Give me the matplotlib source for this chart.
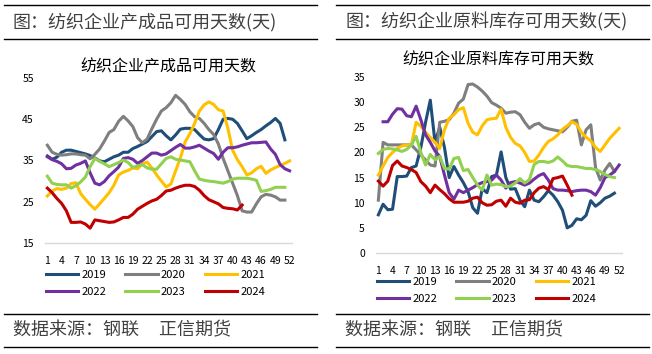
import numpy as np
import matplotlib.pyplot as plt
from matplotlib.lines import Line2D

plt.rcParams['font.family'] = ['Noto Sans CJK SC', 'DejaVu Sans']

weeks = np.arange(1, 53)
years = ['2019', '2020', '2021', '2022', '2023', '2024']
colors = ['#1F4E79', '#7F7F7F', '#FFC000', '#7030A0', '#92D050', '#C00000']

# 纺织企业产成品可用天数 (week 1..)
fg_2019 = [36.1, 35.3, 35.8, 37.0, 37.5, 37.5, 37.2, 36.9, 36.6, 36.2, 35.6, 34.9, 34.7, 35.3, 35.9, 36.3,
           37.0, 37.0, 37.9, 38.4, 39.0, 39.6, 40.8, 42.0, 42.2, 41.0, 40.0, 41.2, 42.6, 42.8, 42.8, 42.5,
           41.3, 40.2, 40.0, 40.3, 42.5, 45.0, 45.2, 45.0, 44.0, 42.2, 40.3, 41.0, 41.8, 42.5, 43.4, 44.2,
           45.2, 44.0, 40.0]
fg_2020 = [38.7, 37.0, 36.5, 36.3, 36.4, 36.6, 36.6, 36.4, 36.3, 35.4, 36.5, 37.8, 39.7, 41.8, 42.5, 44.5,
           45.7, 44.6, 43.2, 40.5, 39.3, 40.2, 42.7, 45.0, 47.0, 47.8, 49.0, 50.8, 49.8, 48.6, 46.8, 45.6,
           45.2, 44.0, 42.5, 41.3, 39.0, 35.5, 32.5, 29.5, 26.5, 22.8, 22.5, 22.5, 24.5, 26.2, 26.8, 26.6,
           26.2, 25.4, 25.4]
fg_2021 = [26.4, 27.6, 28.2, 28.0, 28.3, 29.4, 29.6, 27.0, 25.6, 24.3, 23.2, 24.5, 25.8, 27.2, 29.0, 31.5,
           32.2, 32.6, 33.2, 33.0, 34.2, 34.6, 33.2, 31.5, 30.0, 28.6, 29.3, 32.5, 35.6, 39.5, 41.5, 44.0,
           47.0, 48.5, 49.2, 48.6, 47.3, 47.0, 42.8, 37.5, 35.2, 33.5, 31.5, 32.0, 33.0, 33.6, 31.9, 32.7,
           33.3, 33.8, 34.3, 34.9]
fg_2022 = [35.9, 35.2, 34.8, 34.2, 33.0, 33.1, 33.9, 34.3, 34.9, 32.0, 29.5, 29.1, 29.9, 31.3, 32.3, 33.4,
           35.5, 35.7, 35.3, 34.3, 35.0, 35.9, 36.8, 36.8, 36.3, 36.6, 37.4, 38.2, 38.9, 38.0, 38.0, 38.3,
           38.7, 38.0, 37.3, 36.7, 35.3, 37.0, 38.1, 38.1, 38.3, 38.7, 39.0, 39.3, 39.3, 39.4, 39.5, 37.8,
           36.5, 34.0, 33.0, 32.5]
fg_2023 = [31.2, 29.5, 29.2, 29.1, 29.1, 28.3, 28.9, 29.8, 31.0, 33.5, 35.5, 34.8, 34.2, 33.5, 34.0, 34.5,
           35.1, 34.5, 33.3, 33.7, 34.0, 33.2, 32.9, 32.9, 34.2, 35.5, 35.9, 35.3, 35.1, 34.9, 34.7, 32.5,
           30.5, 30.2, 30.0, 29.9, 29.7, 29.5, 29.9, 30.5, 30.7, 30.7, 30.7, 30.5, 30.2, 27.5, 27.7, 28.0,
           28.5, 28.5, 28.5]
fg_2024 = [28.3, 27.2, 25.8, 24.6, 22.8, 20.0, 20.0, 20.1, 19.6, 18.6, 20.6, 20.4, 20.2, 20.0, 20.1, 20.6,
           21.2, 21.2, 22.0, 23.2, 23.9, 24.6, 25.2, 25.6, 26.5, 27.6, 27.8, 28.3, 28.7, 29.0, 29.0, 28.7,
           27.8, 26.5, 25.5, 25.0, 24.5, 23.6, 23.4, 23.3, 23.0, 24.2]

# 纺织企业原料库存可用天数 (week 1..)
rm_2019 = [7.6, 9.7, 8.6, 8.7, 15.2, 15.2, 15.3, 17.0, 17.3, 21.0, 26.0, 30.4, 22.0, 25.0, 21.0, 15.0,
           17.2, 15.5, 14.0, 12.2, 9.0, 7.9, 12.8, 12.0, 15.2, 15.5, 20.1, 15.0, 12.7, 12.8, 10.5, 9.2,
           12.5, 10.5, 10.2, 11.2, 12.4, 11.5, 10.2, 8.5, 5.0, 5.5, 6.8, 6.6, 7.5, 10.4, 9.3, 10.0,
           10.9, 11.3, 11.9]
rm_2020 = [10.5, 22.0, 21.5, 21.5, 21.5, 21.5, 21.5, 21.5, 20.5, 19.5, 18.5, 17.5, 17.3, 26.0, 26.2, 26.5,
           27.8, 29.8, 30.6, 33.5, 33.6, 33.0, 32.2, 31.2, 29.9, 29.4, 28.8, 27.8, 28.0, 28.1, 27.5, 26.0,
           24.8, 25.5, 25.8, 25.0, 24.7, 24.5, 24.3, 24.1, 25.0, 26.2, 26.4, 21.5, 24.5, 25.5, 17.0, 14.5,
           16.5, 17.8, 16.2]
rm_2021 = [15.5, 17.3, 19.0, 20.0, 20.8, 21.3, 21.5, 21.5, 26.0, 25.2, 24.0, 23.0, 22.0, 20.8, 24.5, 26.8,
           27.5, 28.5, 28.9, 25.8, 24.0, 23.5, 25.3, 26.5, 26.7, 26.8, 28.6, 25.0, 23.0, 21.8, 21.3, 20.0,
           18.2, 18.3, 19.5, 21.0, 22.2, 22.7, 23.5, 24.6, 25.3, 26.1, 25.6, 24.0, 23.0, 22.3, 21.0, 20.2,
           21.5, 22.8, 23.8, 24.8]
rm_2022 = [np.nan, 26.1, 26.1, 27.6, 28.7, 28.6, 27.3, 27.1, 29.2, 26.5, 23.5, 22.0, 20.3, 19.2, 15.5, 12.0,
           10.7, 12.5, 12.0, 12.5, 13.0, 13.6, 14.0, 14.2, 14.5, 15.5, 14.5, 12.9, 14.0, 14.2, 13.9, 13.5,
           13.9, 14.7, 15.4, 15.8, 14.5, 12.8, 12.5, 12.5, 12.4, 12.2, 12.4, 12.5, 12.5, 12.2, 11.5, 13.0,
           15.0, 15.5, 16.2, 17.5]
rm_2023 = [19.8, 20.6, 20.8, 20.7, 20.5, 20.2, 20.6, 21.5, 23.2, 20.0, 17.5, 19.6, 18.5, 19.2, 16.8, 16.7,
           18.8, 19.0, 16.4, 16.6, 15.0, 13.5, 12.5, 15.5, 13.5, 13.7, 13.6, 13.2, 13.3, 13.9, 14.8, 13.9,
           14.6, 17.6, 18.2, 18.2, 18.0, 18.3, 19.1, 18.3, 17.4, 17.2, 17.2, 17.0, 16.8, 16.8, 16.6, 16.2,
           15.6, 15.2, 15.0]
rm_2024 = [14.3, 13.3, 14.3, 17.4, 18.3, 17.3, 17.0, 16.6, 16.0, 14.2, 13.3, 12.0, 13.5, 12.6, 11.8, 10.8,
           10.1, 10.1, 10.1, 10.3, 10.9, 11.1, 10.0, 9.5, 9.6, 10.3, 10.5, 9.3, 10.9, 10.1, 9.9, 10.5,
           10.6, 12.0, 12.9, 13.2, 12.6, 14.8, 15.0, 15.3, 13.5, 11.5]

fg_series = [fg_2019, fg_2020, fg_2021, fg_2022, fg_2023, fg_2024]
rm_series = [rm_2019, rm_2020, rm_2021, rm_2022, rm_2023, rm_2024]

xtick_pos = np.arange(1, 53, 3)
text_gray = '#404040'


def pad(vals):
    out = np.full(52, np.nan)
    out[:len(vals)] = vals
    return out


def draw(ax, series, title, ylim, ystep, title_y):
    lines = []
    for s, c, y in zip(series, colors, years):
        ln, = ax.plot(weeks, pad(s), color=c, lw=2.2, label=y, solid_joinstyle='round')
        lines.append(ln)
    ax.set_xlim(0.5, 52.5)
    ax.set_ylim(*ylim)
    ax.set_yticks(np.arange(ylim[0], ylim[1] + 0.1, ystep))
    ax.set_xticks(xtick_pos)
    ax.set_xticklabels([str(v) for v in xtick_pos])
    ax.tick_params(axis='both', length=0, labelsize=7.5, colors='black')
    ax.tick_params(axis='y', pad=8)
    ax.tick_params(axis='x', pad=9)
    for side in ['top', 'right', 'left']:
        ax.spines[side].set_visible(False)
    ax.spines['bottom'].set_color('#D9D9D9')
    ax.spines['bottom'].set_linewidth(1)
    ax.set_facecolor('none')
    fig.text((ax.get_position().x0 + ax.get_position().x1) / 2, title_y, title,
             ha='center', va='center', fontsize=11.5, color='black')
    return lines


fig = plt.figure(figsize=(6.52, 3.54), dpi=100)

ax1 = fig.add_axes([45 / 652, 1 - 243 / 354, 247 / 652, 165 / 354])
ax2 = fig.add_axes([376 / 652, 1 - 253 / 354, 245.5 / 652, 176 / 354])

l1 = draw(ax1, fg_series, '纺织企业产成品可用天数', (15, 55), 10, 1 - 67 / 354)
l2 = draw(ax2, rm_series, '纺织企业原料库存可用天数', (0, 35), 5, 1 - 60 / 354)

order = [0, 3, 1, 4, 2, 5]
for ax, lines, y0 in [(ax1, l1, 270), (ax2, l2, 277)]:
    ax.legend([lines[i] for i in order], [years[i] for i in order], ncol=3,
              loc='upper left', bbox_to_anchor=((ax.get_position().x0 * 652 + 1) / 652, 1 - y0 / 354),
              bbox_transform=fig.transFigure, frameon=False, fontsize=8,
              handlelength=2.9, handletextpad=0.3, columnspacing=1.7, labelspacing=0.65,
              borderpad=0, borderaxespad=0)

# 框线与标注
for x0, x1 in [(4, 317), (336, 649)]:
    for yy in [5, 39, 314, 347]:
        fig.add_artist(Line2D([x0 / 652, x1 / 652], [1 - yy / 354, 1 - yy / 354],
                              color='black', lw=1))

fig.text(13 / 652, 1 - 22 / 354, '图：纺织企业产成品可用天数(天)', fontsize=13,
         color=text_gray, va='center', ha='left')
fig.text(345 / 652, 1 - 22 / 354, '图：纺织企业原料库存可用天数(天)', fontsize=13,
         color=text_gray, va='center', ha='left')
fig.text(13 / 652, 1 - 330 / 354, '数据来源：钢联     正信期货', fontsize=13,
         color=text_gray, va='center', ha='left')
fig.text(345 / 652, 1 - 330 / 354, '数据来源：钢联     正信期货', fontsize=13,
         color=text_gray, va='center', ha='left')

fig.savefig('out.png', dpi=100)
